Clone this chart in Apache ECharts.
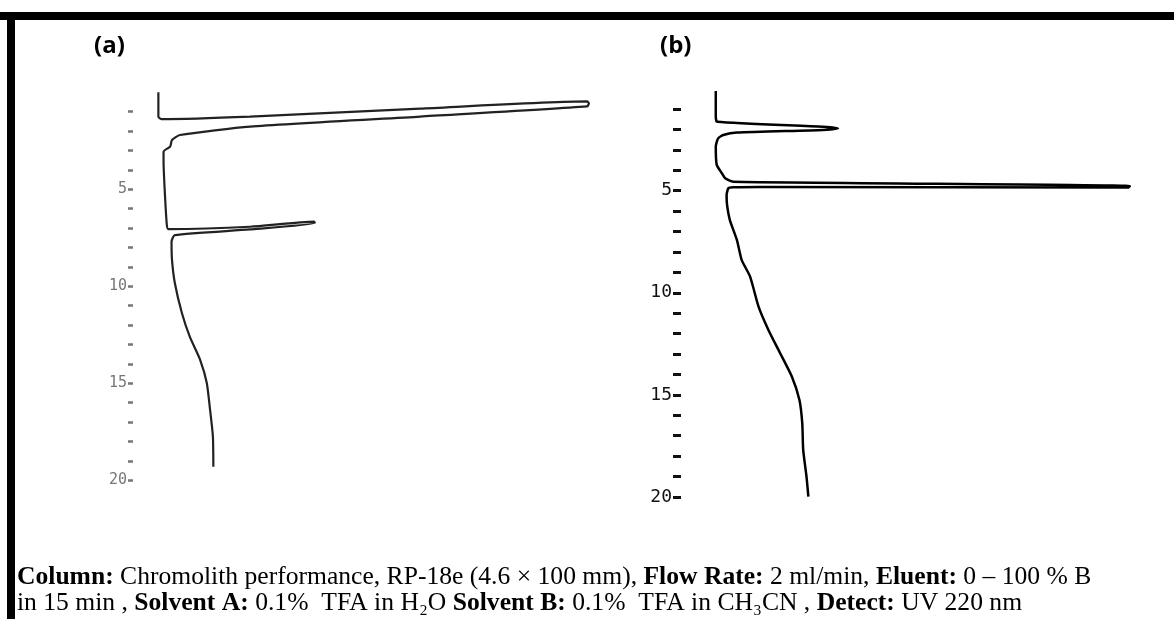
<!DOCTYPE html>
<html>
<head>
<meta charset="utf-8">
<script src="https://cdn.jsdelivr.net/npm/echarts@6/dist/echarts.min.js"></script>
<style>
html,body{margin:0;padding:0;background:#fff;}
#chart{width:1174px;height:619px;}
</style>
</head>
<body>
<div id="chart"></div>
<script>
// Retention time axis (min) and tick labels
const tickValues = [1,2,3,4,5,6,7,8,9,10,11,12,13,14,15,16,17,18,19,20];
const tickLabels = [5,10,15,20];

// Chromatogram (a): detector signal (relative, 0-100) vs retention time (min)
const signalA = [5.4,5.4,6.0,24.9,61.1,96.6,97.0,96.6,61.1,24.9,10.0,8.3,7.9,6.5,6.5,6.8,7.2,7.5,
                 24.9,38.5,38.7,24.9,8.9,8.2,8.3,8.9,10.4,12.1,14.3,15.7,16.4,17.0,17.1];
const timeA   = [0.0,1.26,1.38,1.25,0.84,0.47,0.57,0.73,1.25,1.77,2.20,2.46,2.80,3.06,3.58,5.29,6.84,7.05,
                 6.93,6.67,6.74,7.07,7.36,7.70,8.64,9.83,11.38,12.61,13.80,14.98,16.37,17.75,19.30];

// Chromatogram (b)
const signalB = [7.4,7.4,7.7,30.2,33.4,30.2,11.9,9.0,7.9,7.4,7.6,8.7,9.4,11.1,
                 95.5,95.1,16.8,11.1,10.1,9.7,9.8,10.4,11.9,12.9,14.7,16.5,18.6,21.1,23.6,25.2,25.8,26.0,26.7,27.1];
const timeB   = [0.12,1.38,1.63,1.87,1.95,2.03,2.16,2.28,2.44,2.85,3.74,4.15,4.40,4.56,
                 4.77,4.85,4.82,4.84,4.88,5.21,5.70,6.44,7.42,8.39,9.21,10.68,11.82,12.96,14.11,15.25,16.39,17.69,19.00,19.98];

const captionLine1 = '{b|Column:} Chromolith performance, RP-18e (4.6 × 100 mm), {b|Flow Rate:} 2 ml/min, {b|Eluent:} 0 – 100 % B';
const captionLine2 = 'in 15 min , {b|Solvent A:} 0.1%  TFA in H₂O {b|Solvent B:} 0.1%  TFA in CH₃CN , {b|Detect:} UV 220 nm';

const pairs = (xs, ys) => xs.map((v, i) => [v, ys[i]]);

function yAxisDef(gridIndex, col, tickLen, tickW, fs) {
  return {
    type: 'value', gridIndex, inverse: true, min: 0, max: 20,
    axisLine: {show: false},
    splitLine: {show: false},
    axisTick: {show: true, customValues: tickValues, length: tickLen, lineStyle: {color: col, width: tickW}},
    axisLabel: {show: true, customValues: tickLabels, color: col, margin: tickLen + 1,
                fontFamily: 'DejaVu Sans Mono', fontSize: fs}
  };
}

const chart = echarts.init(document.getElementById('chart'));
chart.setOption({
  animation: false,
  backgroundColor: '#fff',
  grid: [
    {left: 133, top: 92.3, width: 470, height: 388, containLabel: false, outerBoundsMode: 'none'},
    {left: 681, top: 88.5, width: 470, height: 408.5, containLabel: false, outerBoundsMode: 'none'}
  ],
  xAxis: [
    {type: 'value', gridIndex: 0, min: 0, max: 100, show: false},
    {type: 'value', gridIndex: 1, min: 0, max: 100, show: false}
  ],
  yAxis: [
    yAxisDef(0, '#777', 5, 2.5, 15),
    yAxisDef(1, '#111', 8, 3, 18)
  ],
  series: [
    {type: 'line', xAxisIndex: 0, yAxisIndex: 0, data: pairs(signalA, timeA), smooth: 0.2,
     showSymbol: false, lineStyle: {color: '#222', width: 2.2}, silent: true},
    {type: 'line', xAxisIndex: 1, yAxisIndex: 1, data: pairs(signalB, timeB), smooth: 0.2,
     showSymbol: false, lineStyle: {color: '#000', width: 2.5}, silent: true}
  ],
  graphic: [
    {type: 'rect', shape: {x: 0, y: 12, width: 1174, height: 8}, style: {fill: '#000'}},
    {type: 'rect', shape: {x: 7, y: 12, width: 8, height: 607}, style: {fill: '#000'}},
    {type: 'text', left: 94, top: 34, style: {text: '(a)', font: 'bold 24px "Open Sans"', fill: '#000'}},
    {type: 'text', left: 660, top: 34, style: {text: '(b)', font: 'bold 24px "Open Sans"', fill: '#000'}},
    {type: 'text', left: 17, top: 564, style: {
      text: captionLine1, font: '25.6px "Liberation Serif"', fill: '#000',
      rich: {b: {fontWeight: 'bold', fontFamily: 'Liberation Serif', fontSize: 25.6}}}},
    {type: 'text', left: 17, top: 590, style: {
      text: captionLine2, font: '25.6px "Liberation Serif"', fill: '#000',
      rich: {b: {fontWeight: 'bold', fontFamily: 'Liberation Serif', fontSize: 25.6}}}}
  ]
});
</script>
</body>
</html>
